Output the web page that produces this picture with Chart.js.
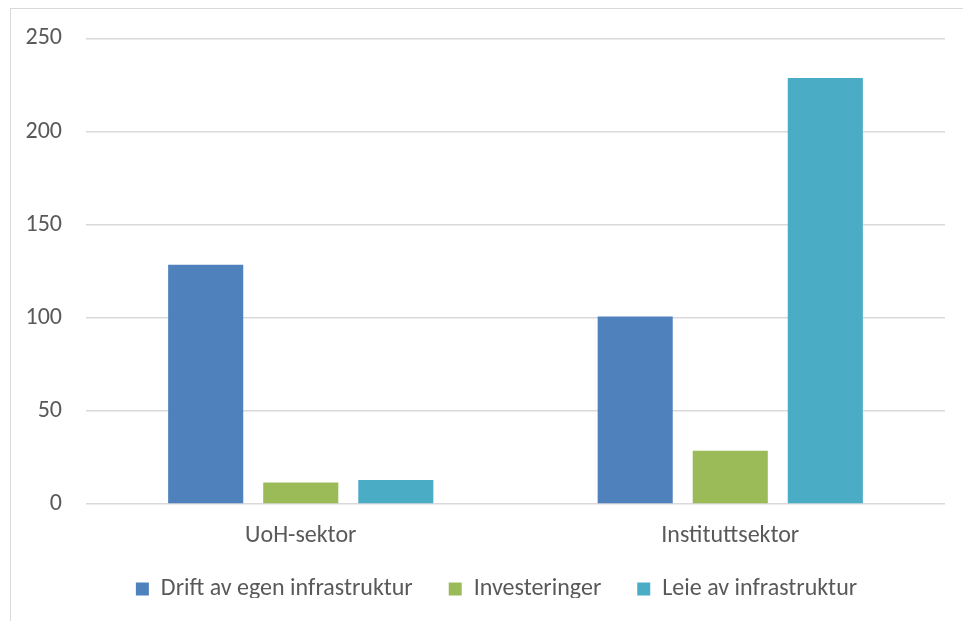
<!DOCTYPE html>
<html>
<head>
<meta charset="utf-8">
<script src="https://cdn.jsdelivr.net/npm/chart.js@4.4.0/dist/chart.umd.min.js"></script>
<style>
  html, body { margin: 0; padding: 0; background: #fff; overflow: hidden; }
  #wrap { position: relative; width: 963px; height: 621px; }
  #frame { position: absolute; left: 10px; top: 8px; width: 1200px; height: 1200px; border: 1.5px solid #d9d9d9; box-sizing: border-box; }
  canvas { position: absolute; left: 0; top: 0; }
</style>
</head>
<body>
<div id="wrap">
  <div id="frame"></div>
  <canvas id="chart" width="963" height="621"></canvas>
</div>
<script>
const categories = ["UoH-sektor", "Instituttsektor"];
const seriesNames = ["Drift av egen infrastruktur", "Investeringer", "Leie av infrastruktur"];
const driftValues = [128.5, 100.7];
const investValues = [11.6, 28.6];
const leieValues = [12.9, 228.7];
const yTicks = [0, 50, 100, 150, 200, 250];

const colors = ["#4F81BD", "#9BBB59", "#4BACC6"];
const textColor = "#595959";
const fontFamily = "Carlito, Calibri, Lato, sans-serif";

Chart.defaults.font.family = fontFamily;
Chart.defaults.color = textColor;

// fixed legend height, and nudge the legend row to where the reference has it
const legendPlace = {
  id: "legendPlace",
  afterInit(chart) {
    const lg = chart.legend;
    const fit = lg.fit;
    lg.fit = function () {
      fit.call(this);
      this.height = 57;
    };
    const draw = lg.draw;
    lg.draw = function () {
      const c = this.ctx;
      c.save();
      c.translate(19, -23);
      draw.call(this);
      c.restore();
    };
  },
};

const ctx = document.getElementById("chart").getContext("2d");
const chart = new Chart(ctx, {
  type: "bar",
  data: {
    labels: categories,
    datasets: [driftValues, investValues, leieValues].map((vals, i) => ({
      label: seriesNames[i],
      data: vals,
      backgroundColor: colors[i],
      borderWidth: 0,
      categoryPercentage: 0.664,
      barPercentage: 0.79,
    })),
  },
  plugins: [legendPlace],
  options: {
    responsive: false,
    animation: false,
    layout: { padding: { left: 10, right: 18, top: 33, bottom: 0 } },
    plugins: {
      tooltip: { enabled: false },
      legend: {
        position: "bottom",
        labels: {
          boxWidth: 13,
          boxHeight: 13,
          padding: 36,
          color: textColor,
          font: { size: 24 },
        },
      },
    },
    scales: {
      x: {
        grid: { display: false },
        border: { display: false },
        afterFit: (scale) => { scale.height = 60; },
        ticks: { color: textColor, font: { size: 24 }, padding: 10 },
      },
      y: {
        min: 0,
        max: 250,
        afterBuildTicks: (scale) => { scale.ticks = yTicks.map((v) => ({ value: v })); },
        afterFit: (scale) => { scale.width = 76; },
        grid: { color: "#d9d9d9", lineWidth: 1.5, drawTicks: false },
        border: { display: false },
        ticks: { color: textColor, font: { size: 24 }, padding: 24 },
      },
    },
  },
});
</script>
</body>
</html>
